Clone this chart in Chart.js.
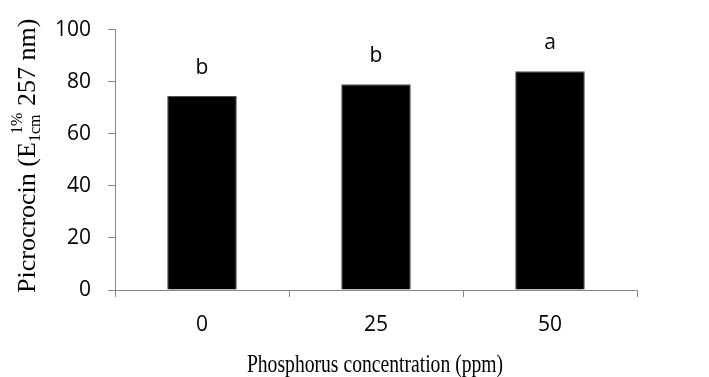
<!DOCTYPE html>
<html>
<head>
<meta charset="utf-8">
<script src="https://cdn.jsdelivr.net/npm/chart.js@4/dist/chart.umd.min.js"></script>
<style>
    body { margin: 0; background: #fff; }
    #wrap { width: 709px; height: 377px; }
</style>
</head>
<body>
<div id="wrap"><canvas id="chartPicrocrocin" width="709" height="377"></canvas></div>
<script>
var categories = ['0', '25', '50'];
var picrocrocin = [74.5, 79, 84];
var letters = ['b', 'b', 'a'];
var yTicks = [0, 20, 40, 60, 80, 100];

var axisColor = '#868686';
var tickFont = { family: 'Open Sans', size: 21 };

// letters over the bars and both axis titles (the y one has sub/superscripts)
var extrasPlugin = {
    id: 'extras',
    afterDraw: function(chart){
        var ctx = chart.ctx;
        var meta = chart.getDatasetMeta(0);

        ctx.save();
        ctx.fillStyle = '#000';
        ctx.font = '21px "Open Sans"';
        ctx.textAlign = 'center';
        ctx.textBaseline = 'middle';
        for(var i = 0; i < meta.data.length; i++){
            var bar = meta.data[i];
            ctx.fillText(letters[i], bar.x, bar.y - 28);
        }
        ctx.restore();

        // x title
        ctx.save();
        ctx.fillStyle = '#000';
        ctx.font = '26px "Liberation Serif"';
        ctx.textAlign = 'center';
        ctx.textBaseline = 'alphabetic';
        ctx.translate(375, 372);
        ctx.scale(0.755, 1);
        ctx.fillText('Phosphorus concentration (ppm)', 0, 0);
        ctx.restore();

        // y title, written bottom to top
        ctx.save();
        ctx.fillStyle = '#000';
        ctx.textAlign = 'left';
        ctx.textBaseline = 'alphabetic';
        ctx.translate(35, 293);
        ctx.rotate(-Math.PI / 2);
        var big = '26px "Liberation Serif"';
        var small = '16px "Liberation Serif"';
        var pos = 0;
        ctx.font = big;
        ctx.fillText('Picrocrocin (E', pos, 0);
        pos += ctx.measureText('Picrocrocin (E').width;
        ctx.font = small;
        var subW = ctx.measureText('1cm').width;
        var supW = ctx.measureText('1%').width;
        ctx.fillText('1cm', pos, 5);
        ctx.fillText('1%', pos + subW - supW + 2, -13);
        pos += subW + 2;
        ctx.font = big;
        ctx.fillText(' 257 nm)', pos, 0);
        ctx.restore();
    }
};

var config = {
    type: 'bar',
    data: {
        labels: categories,
        datasets: [{
            data: picrocrocin,
            backgroundColor: '#000',
            borderColor: '#555',
            borderWidth: 1,
            categoryPercentage: 1,
            barPercentage: 0.4
        }]
    },
    options: {
        responsive: false,
        devicePixelRatio: 1,
        animation: false,
        layout: { padding: { left: 0, top: 25, right: 72, bottom: 0 } },
        plugins: {
            legend: { display: false },
            tooltip: { enabled: false }
        },
        scales: {
            x: {
                grid: { display: true, drawOnChartArea: false, offset: true, tickLength: 7, color: axisColor },
                border: { color: axisColor },
                ticks: { font: tickFont, color: '#000', padding: 15 },
                afterFit: function(scale){ scale.height = 87; }
            },
            y: {
                min: 0,
                max: 100,
                afterBuildTicks: function(scale){
                    scale.ticks = yTicks.map(function(v){ return { value: v }; });
                },
                grid: { display: true, drawOnChartArea: false, tickLength: 7, color: axisColor },
                border: { color: axisColor },
                ticks: { font: tickFont, color: '#000', padding: 17 },
                afterFit: function(scale){ scale.width = 115; }
            }
        }
    },
    plugins: [extrasPlugin]
};

var ctx = document.getElementById('chartPicrocrocin').getContext('2d');
var chart = new Chart(ctx, config);
</script>
</body>
</html>
